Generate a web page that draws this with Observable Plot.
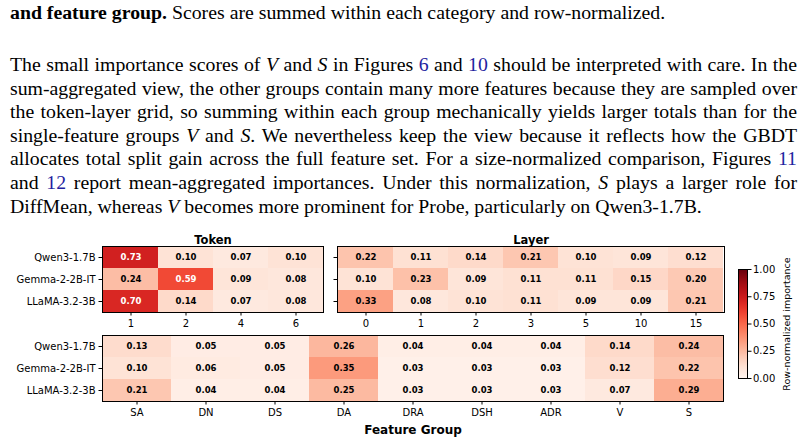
<!DOCTYPE html>
<html><head><meta charset="utf-8">
<script src="https://cdn.jsdelivr.net/npm/d3@7"></script>
<script src="https://cdn.jsdelivr.net/npm/@observablehq/plot@0.6"></script>
<style>
body{margin:0;background:#fff;}
#root{position:relative;width:806px;height:446px;overflow:hidden;background:#fff;}
.txt{position:absolute;left:10px;width:787px;font-family:"Liberation Serif","Times New Roman",serif;font-size:19.8px;color:#000;}
.ln{height:23.6px;line-height:23.6px;text-align:justify;text-align-last:justify;white-space:nowrap;}
.ln.last{text-align-last:left;}
.ref{color:#1f1fa0;}
.panel{position:absolute;}
.panel svg{overflow:visible;font-family:"DejaVu Sans";}
.panel svg text{font-family:"DejaVu Sans";}
</style></head>
<body>
<div id="root">
  <div class="txt" style="top:1px"><div class="ln last"><b>and feature group.</b> Scores are summed within each category and row-normalized.</div></div>
  <div class="txt" style="top:53px">
    <div class="ln">The small importance scores of <i>V</i> and <i>S</i> in Figures <span class="ref">6</span> and <span class="ref">10</span> should be interpreted with care. In the</div>
    <div class="ln">sum-aggregated view, the other groups contain many more features because they are sampled over</div>
    <div class="ln">the token-layer grid, so summing within each group mechanically yields larger totals than for the</div>
    <div class="ln">single-feature groups <i>V</i> and <i>S</i>. We nevertheless keep the view because it reflects how the GBDT</div>
    <div class="ln">allocates total split gain across the full feature set. For a size-normalized comparison, Figures <span class="ref">11</span></div>
    <div class="ln">and <span class="ref">12</span> report mean-aggregated importances. Under this normalization, <i>S</i> plays a larger role for</div>
    <div class="ln last">DiffMean, whereas <i>V</i> becomes more prominent for Probe, particularly on Qwen3-1.7B.</div>
  </div>
</div>
<script>
const models = ["Qwen3-1.7B", "Gemma-2-2B-IT", "LLaMA-3.2-3B"];
const tokenLabels = ["1", "2", "4", "6"];
const tokenValues = [
  [0.73, 0.10, 0.07, 0.10],
  [0.24, 0.59, 0.09, 0.08],
  [0.70, 0.14, 0.07, 0.08]
];
const layerLabels = ["0", "1", "2", "3", "5", "10", "15"];
const layerValues = [
  [0.22, 0.11, 0.14, 0.21, 0.10, 0.09, 0.12],
  [0.10, 0.23, 0.09, 0.11, 0.11, 0.15, 0.20],
  [0.33, 0.08, 0.10, 0.11, 0.09, 0.09, 0.21]
];
const groupLabels = ["SA", "DN", "DS", "DA", "DRA", "DSH", "ADR", "V", "S"];
const groupValues = [
  [0.13, 0.05, 0.05, 0.26, 0.04, 0.04, 0.04, 0.14, 0.24],
  [0.10, 0.06, 0.05, 0.35, 0.03, 0.03, 0.03, 0.12, 0.22],
  [0.21, 0.04, 0.04, 0.25, 0.03, 0.03, 0.03, 0.07, 0.29]
];
const colorTicks = [0, 0.25, 0.5, 0.75, 1];
const colorbarLabel = "Row-normalized importance";

const root = document.getElementById("root");
const FONT = "DejaVu Sans";

function place(node, left, top) {
  const d = document.createElement("div");
  d.className = "panel";
  d.style.left = left + "px";
  d.style.top = top + "px";
  d.appendChild(node);
  root.appendChild(d);
}

function heat({labels, values, frameW, marginLeft, marginTop, marginBottom, showY, title, xlabel}) {
  const data = [];
  models.forEach((m, i) => labels.forEach((l, j) => data.push({model: m, col: l, v: values[i][j]})));
  const frameH = 66;
  return Plot.plot({
    width: marginLeft + frameW + 1,
    height: marginTop + frameH + marginBottom,
    marginLeft, marginRight: 1, marginTop, marginBottom,
    style: {fontFamily: FONT, fontSize: "10px", color: "#000", background: "transparent"},
    x: {domain: labels, padding: 0, label: null},
    y: {domain: models, padding: 0, label: null},
    color: {type: "linear", scheme: "reds", domain: [0, 1]},
    marks: [
      Plot.cell(data, {x: "col", y: "model", fill: "v", inset: 0}),
      Plot.text(data.filter(d => d.v <= 0.5), {x: "col", y: "model", text: d => d.v.toFixed(2), fill: "black", fontWeight: "bold", fontSize: 8.5, fontFamily: FONT}),
      Plot.text(data.filter(d => d.v > 0.5), {x: "col", y: "model", text: d => d.v.toFixed(2), fill: "white", fontWeight: "bold", fontSize: 8.5, fontFamily: FONT}),
      Plot.frame({stroke: "black", strokeWidth: 1}),
      Plot.axisX({tickSize: 3.5, tickPadding: 3.5, fontSize: 10, fontFamily: FONT, label: null}),
      Plot.axisY({tickSize: 3.5, tickPadding: 3.5, fontSize: 10, fontFamily: FONT, label: null, tickFormat: showY ? (d => d) : (() => "")}),
      title ? Plot.text([title], {frameAnchor: "top", dy: -10.5, fontWeight: "bold", fontSize: 11.5, fontFamily: FONT}) : null,
      xlabel ? Plot.text([xlabel], {frameAnchor: "bottom", dy: 32, fontWeight: "bold", fontSize: 12, fontFamily: FONT}) : null
    ]
  });
}

place(heat({labels: tokenLabels, values: tokenValues, frameW: 221, marginLeft: 102, marginTop: 20, marginBottom: 24, showY: true, title: "Token"}), 0, 226);
place(heat({labels: layerLabels, values: layerValues, frameW: 387, marginLeft: 6, marginTop: 20, marginBottom: 24, showY: false, title: "Layer"}), 331, 226);
place(heat({labels: groupLabels, values: groupValues, frameW: 621, marginLeft: 102, marginTop: 10, marginBottom: 40, showY: true, xlabel: "Feature Group"}), 0, 325);

// colorbar
const cb = Plot.plot({
  width: 76, height: 109 + 16,
  marginLeft: 8, marginRight: 59, marginTop: 8, marginBottom: 8,
  style: {fontFamily: FONT, fontSize: "10px", color: "#000", background: "transparent"},
  x: {domain: [0, 1], axis: null},
  y: {domain: [0, 1], axis: null},
  color: {type: "linear", scheme: "reds", domain: [0, 1]},
  marks: [
    Plot.raster({x1: 0, x2: 1, y1: 0, y2: 1, fill: (x, y) => y}),
    Plot.frame({stroke: "black", strokeWidth: 1}),
    Plot.axisY({anchor: "right", ticks: colorTicks, tickFormat: d3.format(".2f"), tickSize: 3.5, tickPadding: 2, fontSize: 10, fontFamily: FONT, label: null}),
    Plot.text([colorbarLabel], {frameAnchor: "right", dx: 39, rotate: -90, textAnchor: "middle", fontSize: 9.5, fontFamily: FONT})
  ]
});
place(cb, 730, 261);
</script>
</body></html>
